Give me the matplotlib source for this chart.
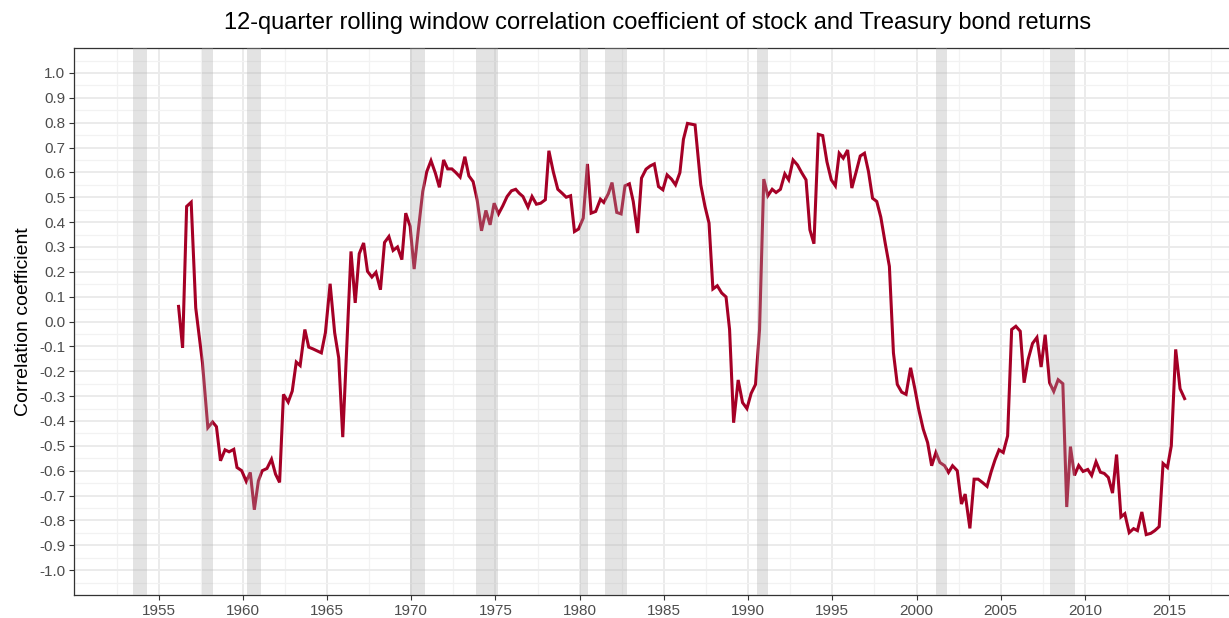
import matplotlib
matplotlib.use("Agg")
import matplotlib.pyplot as plt
from matplotlib.ticker import MultipleLocator

plt.rcParams['font.family'] = ['Liberation Sans', 'DejaVu Sans']

TITLE = "12-quarter rolling window correlation coefficient of stock and Treasury bond returns"
YLABEL = "Correlation coefficient"

years = [
    1956.18, 1956.42, 1956.66, 1956.93, 1957.20, 1957.60, 1957.92, 1958.20,
    1958.43, 1958.67, 1958.94, 1959.18, 1959.46, 1959.65, 1959.93, 1960.20,
    1960.44, 1960.68, 1960.92, 1961.15, 1961.43, 1961.70, 1961.94, 1962.18,
    1962.41, 1962.69, 1962.93, 1963.17, 1963.40, 1963.68, 1963.91, 1964.16,
    1964.41, 1964.66, 1964.90, 1965.18, 1965.45, 1965.69, 1965.93, 1966.42,
    1966.67, 1966.91, 1967.17, 1967.40, 1967.66, 1967.90, 1968.17, 1968.41,
    1968.67, 1968.92, 1969.18, 1969.44, 1969.67, 1969.93, 1970.17, 1970.42,
    1970.68, 1970.92, 1971.17, 1971.43, 1971.67, 1971.92, 1972.16, 1972.41,
    1972.65, 1972.90, 1973.18, 1973.42, 1973.67, 1973.91, 1974.17, 1974.43,
    1974.68, 1974.92, 1975.18, 1975.43, 1975.69, 1975.95, 1976.20, 1976.41,
    1976.63, 1976.93, 1977.17, 1977.43, 1977.68, 1977.96, 1978.17, 1978.43,
    1978.70, 1978.96, 1979.20, 1979.46, 1979.69, 1979.93, 1980.21, 1980.46,
    1980.68, 1980.95, 1981.23, 1981.43, 1981.70, 1981.92, 1982.20, 1982.46,
    1982.69, 1982.95, 1983.18, 1983.44, 1983.67, 1983.94, 1984.19, 1984.43,
    1984.68, 1984.94, 1985.19, 1985.45, 1985.69, 1985.95, 1986.16, 1986.40,
    1986.85, 1987.19, 1987.44, 1987.68, 1987.91, 1988.17, 1988.43, 1988.69,
    1988.90, 1989.14, 1989.41, 1989.67, 1989.93, 1990.18, 1990.44, 1990.68,
    1990.93, 1991.17, 1991.43, 1991.66, 1991.92, 1992.18, 1992.41, 1992.67,
    1992.93, 1993.18, 1993.44, 1993.67, 1993.91, 1994.17, 1994.43, 1994.68,
    1994.94, 1995.18, 1995.41, 1995.65, 1995.91, 1996.16, 1996.42, 1996.66,
    1996.91, 1997.15, 1997.39, 1997.64, 1997.88, 1998.14, 1998.39, 1998.63,
    1998.86, 1999.12, 1999.38, 1999.65, 1999.91, 2000.13, 2000.40, 2000.66,
    2000.90, 2001.15, 2001.39, 2001.67, 2001.90, 2002.14, 2002.42, 2002.67,
    2002.89, 2003.17, 2003.42, 2003.66, 2003.91, 2004.19, 2004.43, 2004.66,
    2004.90, 2005.15, 2005.41, 2005.65, 2005.90, 2006.16, 2006.39, 2006.63,
    2006.89, 2007.15, 2007.40, 2007.64, 2007.90, 2008.15, 2008.41, 2008.69,
    2008.92, 2009.14, 2009.38, 2009.63, 2009.89, 2010.17, 2010.40, 2010.66,
    2010.92, 2011.15, 2011.39, 2011.64, 2011.88, 2012.14, 2012.37, 2012.63,
    2012.89, 2013.12, 2013.38, 2013.64, 2013.91, 2014.15, 2014.41, 2014.64,
    2014.90, 2015.13, 2015.39, 2015.65, 2015.92,
]

corr = [
    0.061, -0.106, 0.463, 0.480, 0.055, -0.166, -0.427, -0.404,
    -0.423, -0.560, -0.516, -0.524, -0.514, -0.587, -0.600, -0.643,
    -0.607, -0.757, -0.641, -0.600, -0.591, -0.554, -0.614, -0.647,
    -0.293, -0.324, -0.280, -0.163, -0.177, -0.032, -0.103, -0.110,
    -0.118, -0.126, -0.045, 0.152, -0.045, -0.146, -0.465, 0.282,
    0.075, 0.273, 0.316, 0.202, 0.179, 0.198, 0.128, 0.318,
    0.342, 0.286, 0.300, 0.249, 0.436, 0.383, 0.211, 0.369,
    0.523, 0.603, 0.647, 0.597, 0.540, 0.650, 0.614, 0.614,
    0.599, 0.581, 0.663, 0.586, 0.563, 0.490, 0.365, 0.447,
    0.389, 0.476, 0.433, 0.465, 0.503, 0.526, 0.532, 0.516,
    0.503, 0.460, 0.503, 0.472, 0.476, 0.490, 0.687, 0.603,
    0.532, 0.516, 0.500, 0.506, 0.362, 0.372, 0.416, 0.634,
    0.436, 0.443, 0.492, 0.479, 0.514, 0.559, 0.439, 0.433,
    0.546, 0.554, 0.483, 0.356, 0.577, 0.613, 0.626, 0.634,
    0.543, 0.530, 0.590, 0.573, 0.550, 0.599, 0.733, 0.797,
    0.791, 0.550, 0.463, 0.396, 0.131, 0.144, 0.115, 0.099,
    -0.032, -0.407, -0.235, -0.326, -0.350, -0.289, -0.253, -0.032,
    0.573, 0.506, 0.532, 0.519, 0.532, 0.594, 0.570, 0.650,
    0.630, 0.599, 0.570, 0.369, 0.313, 0.753, 0.748, 0.643,
    0.570, 0.546, 0.677, 0.657, 0.690, 0.537, 0.603, 0.666,
    0.677, 0.603, 0.496, 0.483, 0.420, 0.316, 0.222, -0.126,
    -0.253, -0.284, -0.293, -0.186, -0.273, -0.353, -0.433, -0.487,
    -0.580, -0.527, -0.567, -0.580, -0.607, -0.580, -0.600, -0.734,
    -0.694, -0.832, -0.634, -0.634, -0.647, -0.663, -0.605, -0.557,
    -0.516, -0.527, -0.460, -0.032, -0.019, -0.039, -0.246, -0.152,
    -0.088, -0.064, -0.183, -0.053, -0.246, -0.281, -0.234, -0.250,
    -0.746, -0.503, -0.619, -0.579, -0.603, -0.595, -0.619, -0.564,
    -0.606, -0.611, -0.627, -0.690, -0.535, -0.786, -0.773, -0.849,
    -0.833, -0.841, -0.766, -0.857, -0.852, -0.841, -0.825, -0.571,
    -0.587, -0.500, -0.112, -0.270, -0.310,
]

# NBER recessions (start, end)
rec_start = [1953.50, 1957.58, 1960.25, 1969.92, 1973.83, 1980.00, 1981.50, 1990.50, 2001.17, 2007.92]
rec_end = [1954.33, 1958.25, 1961.08, 1970.83, 1975.17, 1980.50, 1982.83, 1991.17, 2001.83, 2009.42]

fig = plt.figure(figsize=(12.29, 6.18), dpi=100)
ax = fig.add_axes([0.0606, 0.0372, 0.94, 0.885])

ax.plot(years, corr, color='#A50026', lw=2.2, zorder=3, solid_joinstyle='miter')
for s, e in zip(rec_start, rec_end):
    ax.axvspan(s, e, color='#aaaaaa', alpha=0.32, lw=0, zorder=4)

ax.set_xlim(1950.0, 2018.6)
ax.set_ylim(-1.1, 1.1)
ax.xaxis.set_major_locator(MultipleLocator(5))
ax.xaxis.set_minor_locator(MultipleLocator(2.5))
ax.yaxis.set_major_locator(MultipleLocator(0.1))
ax.yaxis.set_minor_locator(MultipleLocator(0.05))
ax.set_xticks(range(1955, 2016, 5))
ax.set_yticks([round(-1.0 + 0.1 * i, 1) for i in range(21)])
ax.set_yticklabels(['%.1f' % v for v in ax.get_yticks()])

ax.grid(which='major', color='#ebebeb', lw=1.4, zorder=0)
ax.grid(which='minor', color='#f2f2f2', lw=0.9, zorder=0)
ax.set_axisbelow(True)

for side in ['left', 'bottom', 'top']:
    ax.spines[side].set_color('#333333')
    ax.spines[side].set_linewidth(0.9)
ax.spines['right'].set_visible(False)

ax.tick_params(which='major', length=3.5, width=0.8, color='#333333', labelsize=11, labelcolor='#4d4d4d', pad=3)
ax.tick_params(which='minor', length=0)

ax.set_ylabel(YLABEL, fontsize=14, color='black', labelpad=5)
fig.text(0.535, 0.963, TITLE, ha='center', va='center', fontsize=17)

fig.savefig('out.png', dpi=100)
